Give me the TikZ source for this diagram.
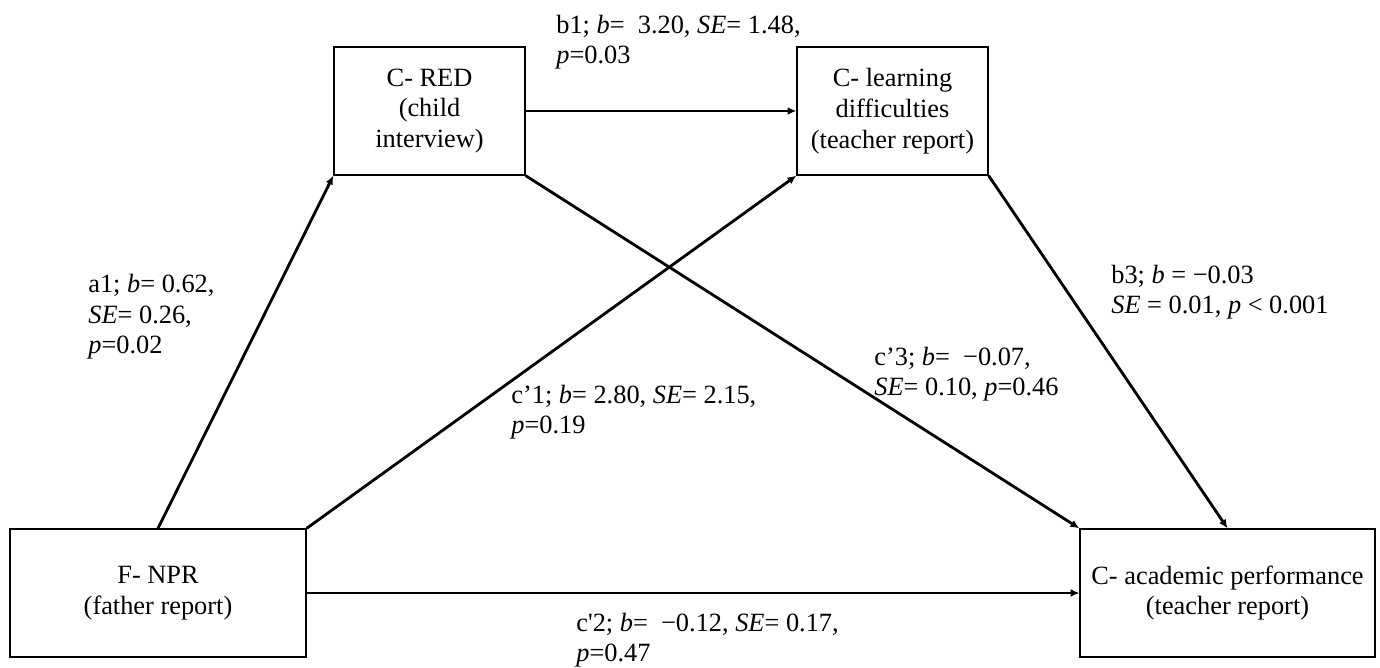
\documentclass[tikz,border=0pt]{standalone}
\usepackage{fontspec}
\setmainfont{Liberation Serif}
\usetikzlibrary{arrows.meta}

\begin{document}
\begin{tikzpicture}[scale=0.2,
  var/.style={draw, line width=0.75pt, minimum height=2.56cm, align=center, inner sep=0pt, font=\fontsize{15}{17.5}\selectfont},
  lbl/.style={anchor=base west, align=left, inner sep=0pt, font=\fontsize{15}{17.5}\selectfont},
  link/.style={line width=1.6pt, -{Latex[length=5pt,width=4.5pt]}}]
  \useasboundingbox (0,0) rectangle (138,66.8);
  % variables
  \node[var, minimum width=3.82cm] (red) at (42.95,55.7) {C- RED\\(child\\interview)};
  \node[var, minimum width=3.82cm] (ld) at (89.25,55.7) {C- learning\\difficulties\\(teacher report)};
  \node[var, minimum width=5.92cm] (npr) at (15.8,7.5) {F- NPR\\(father report)};
  \node[var, minimum width=5.9cm] (ap) at (122.75,7.5) {C- academic performance\\(teacher report)};
  % paths
  \draw[link] (npr.north) -- (red.south west);
  \draw[link] (npr.north east) -- (ld.south west);
  \draw[link] (red.east) -- (ld.west);
  \draw[link] (red.south east) -- (ap.north west);
  \draw[link] (ld.south east) -- (ap.north);
  \draw[link, line width=0.8pt] (npr.east) -- (ap.west);
  % coefficients (base = last line)
  \node[lbl] (b1) at (55.6,60.4) {b1; \textit{b}=~ 3.20, \textit{SE}= 1.48,\\\textit{p}=0.03};
  \node[lbl] (a1) at (8.8,31.4) {a1; \textit{b}= 0.62,\\\textit{SE}= 0.26,\\\textit{p}=0.02};
  \node[lbl] (c1) at (51.1,23.4) {c’1; \textit{b}= 2.80, \textit{SE}= 2.15,\\\textit{p}=0.19};
  \node[lbl] (b3) at (111.1,35.4) {b3; \textit{b} = −0.03\\\textit{SE} = 0.01, \textit{p} < 0.001};
  \node[lbl] (c3) at (87.4,27.2) {c’3; \textit{b}=~ −0.07,\\\textit{SE}= 0.10, \textit{p}=0.46};
  \node[lbl] (c2) at (57.6,0.6) {c\textquotesingle 2; \textit{b}=~ −0.12, \textit{SE}= 0.17,\\\textit{p}=0.47};
\end{tikzpicture}
\end{document}
